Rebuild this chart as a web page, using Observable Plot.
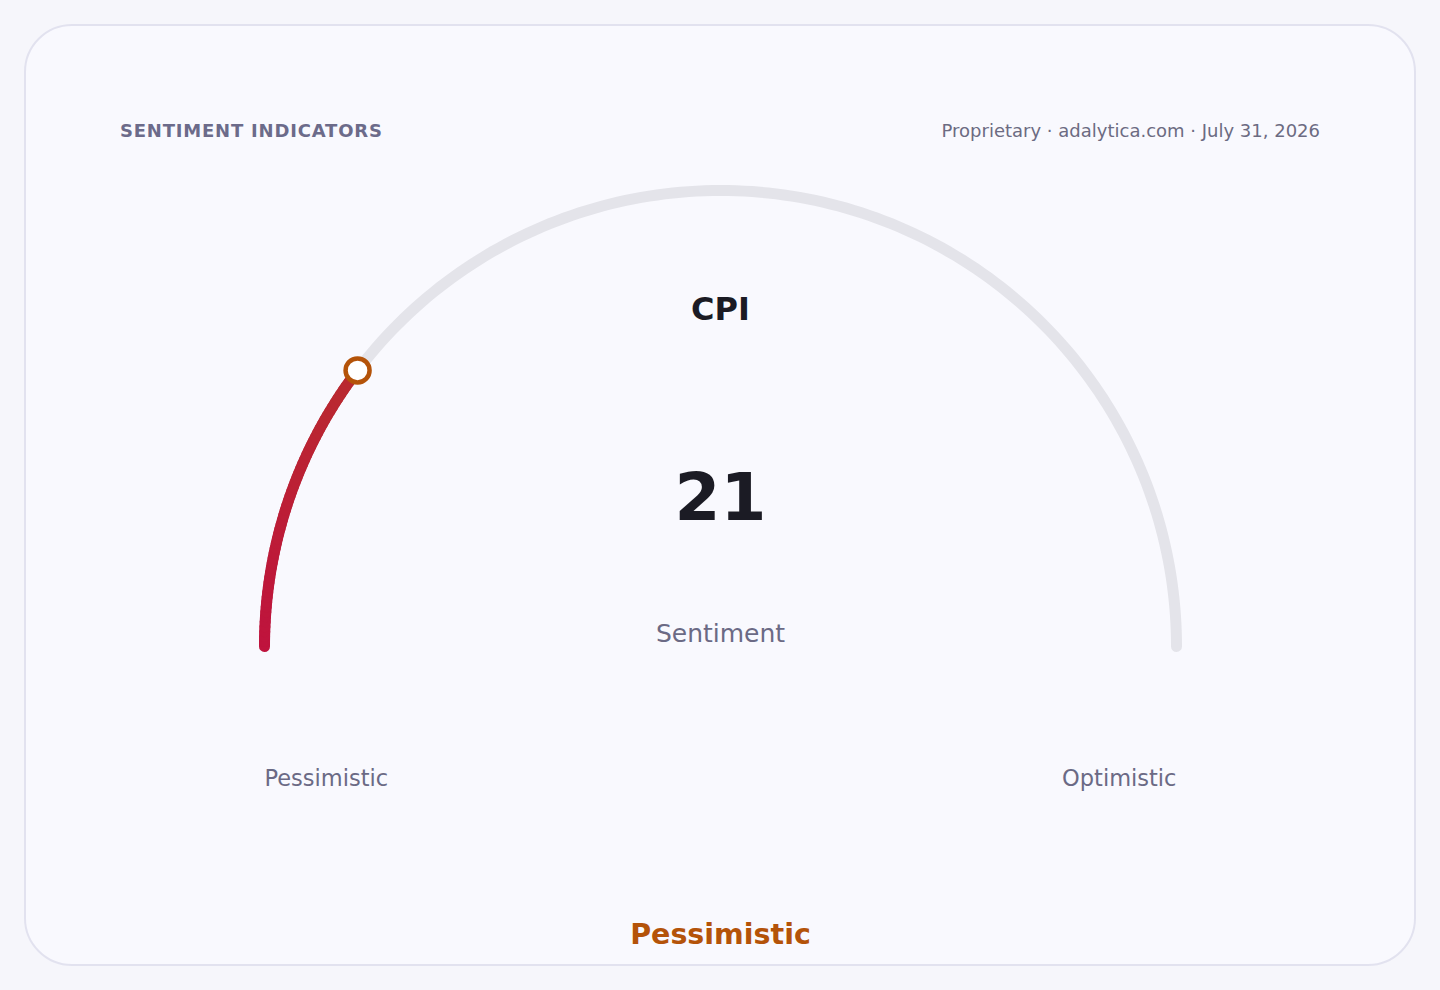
<!DOCTYPE html>
<html>
<head>
<meta charset="utf-8">
<script src="https://cdn.jsdelivr.net/npm/d3@7"></script>
<script src="https://cdn.jsdelivr.net/npm/@observablehq/plot@0.6"></script>
<style>
  html, body { margin: 0; padding: 0; background: #f6f6fb; width: 1440px; height: 990px; overflow: hidden; font-family: "DejaVu Sans", sans-serif; }
  #card { position: absolute; left: 24px; top: 24px; width: 1388px; height: 938px; border: 2px solid #e2e2ef; border-radius: 48px; background: #f9f9fe; }
  #title { position: absolute; left: 120px; top: 120px; font-size: 18px; font-weight: bold; letter-spacing: 0.8px; color: #6c6b8a; }
  #source { position: absolute; right: 120px; top: 120px; font-size: 18px; color: #6c6b82; }
  #chart { position: absolute; left: 0; top: 0; }
</style>
</head>
<body>
<div id="card"></div>
<div id="title"></div>
<div id="source"></div>
<div id="chart"></div>
<script>
// ---- data ----
const titleText = "SENTIMENT INDICATORS";
const sourceText = "Proprietary · adalytica.com · July 31, 2026";
const indicatorName = "CPI";
const indicatorValue = 20.7;
const scaleMin = 0;
const scaleMax = 100;
const unitLabel = "Sentiment";
const endLabels = ["Pessimistic", "Optimistic"];
const statusLabel = "Pessimistic";
const fillColors = ["#bf133d", "#b92a2f"];
const statusColor = "#b45309";

document.getElementById("title").textContent = titleText;
document.getElementById("source").textContent = sourceText;

// ---- geometry helpers (unit circle, value -> angle) ----
const frac = v => (v - scaleMin) / (scaleMax - scaleMin);
const ang = v => Math.PI * (1 - frac(v));
const pt = v => ({x: Math.cos(ang(v)), y: Math.sin(ang(v))});

// track
const trackPts = d3.range(0, 181).map(i => pt(scaleMin + (scaleMax - scaleMin) * i / 180));
// filled arc, split into segments for a gradient
const nSeg = 60;
const segs = [];
for (let i = 0; i < nSeg; i++) {
  const v0 = scaleMin + (indicatorValue - scaleMin) * i / nSeg;
  const v1 = scaleMin + (indicatorValue - scaleMin) * (i + 1) / nSeg;
  const c = d3.interpolateRgb(fillColors[0], fillColors[1])(i / (nSeg - 1));
  segs.push({...pt(v0), z: i, c});
  segs.push({...pt(v1), z: i, c});
}
const marker = [pt(indicatorValue)];

const W = 1440, H = 990, cx = 720, cy = 646, R = 456;
const toY = px => (cy - px) / R;

const chart = Plot.plot({
  width: W, height: H,
  margin: 0,
  x: {domain: [-cx / R, (W - cx) / R], range: [0, W], axis: null},
  y: {domain: [toY(H), toY(0)], range: [H, 0], axis: null},
  color: {type: "identity"},
  style: {background: "transparent", fontFamily: "DejaVu Sans, sans-serif"},
  marks: [
    Plot.line(trackPts, {x: "x", y: "y", stroke: "#e4e4ea", strokeWidth: 11, strokeLinecap: "round", curve: "linear"}),
    Plot.line(segs, {x: "x", y: "y", z: "z", stroke: "c", strokeWidth: 11, strokeLinecap: "round"}),
    Plot.dot(marker, {x: "x", y: "y", r: 12, fill: "#ffffff", stroke: statusColor, strokeWidth: 4.5}),
    Plot.text([indicatorName], {x: 0, y: toY(309), text: d => d, fontSize: 32, fontWeight: "bold", fill: "#1b1b24", lineAnchor: "middle"}),
    Plot.text([indicatorValue], {x: 0, y: toY(498), text: d => String(Math.round(d)), fontSize: 66, fontWeight: "bold", fill: "#1b1b24", lineAnchor: "middle"}),
    Plot.text([unitLabel], {x: 0, y: toY(633), text: d => d, fontSize: 25, fill: "#6b6a85", lineAnchor: "middle"}),
    Plot.text([endLabels[0]], {x: -1, y: toY(778), text: d => d, fontSize: 22.5, fill: "#6b6a85", textAnchor: "start", lineAnchor: "middle"}),
    Plot.text([endLabels[1]], {x: 1, y: toY(778), text: d => d, fontSize: 22.5, fill: "#6b6a85", textAnchor: "end", lineAnchor: "middle"}),
    Plot.text([statusLabel], {x: 0, y: toY(934), text: d => d, fontSize: 28.5, fontWeight: "bold", fill: statusColor, lineAnchor: "middle"})
  ]
});
document.getElementById("chart").appendChild(chart);
</script>
</body>
</html>
